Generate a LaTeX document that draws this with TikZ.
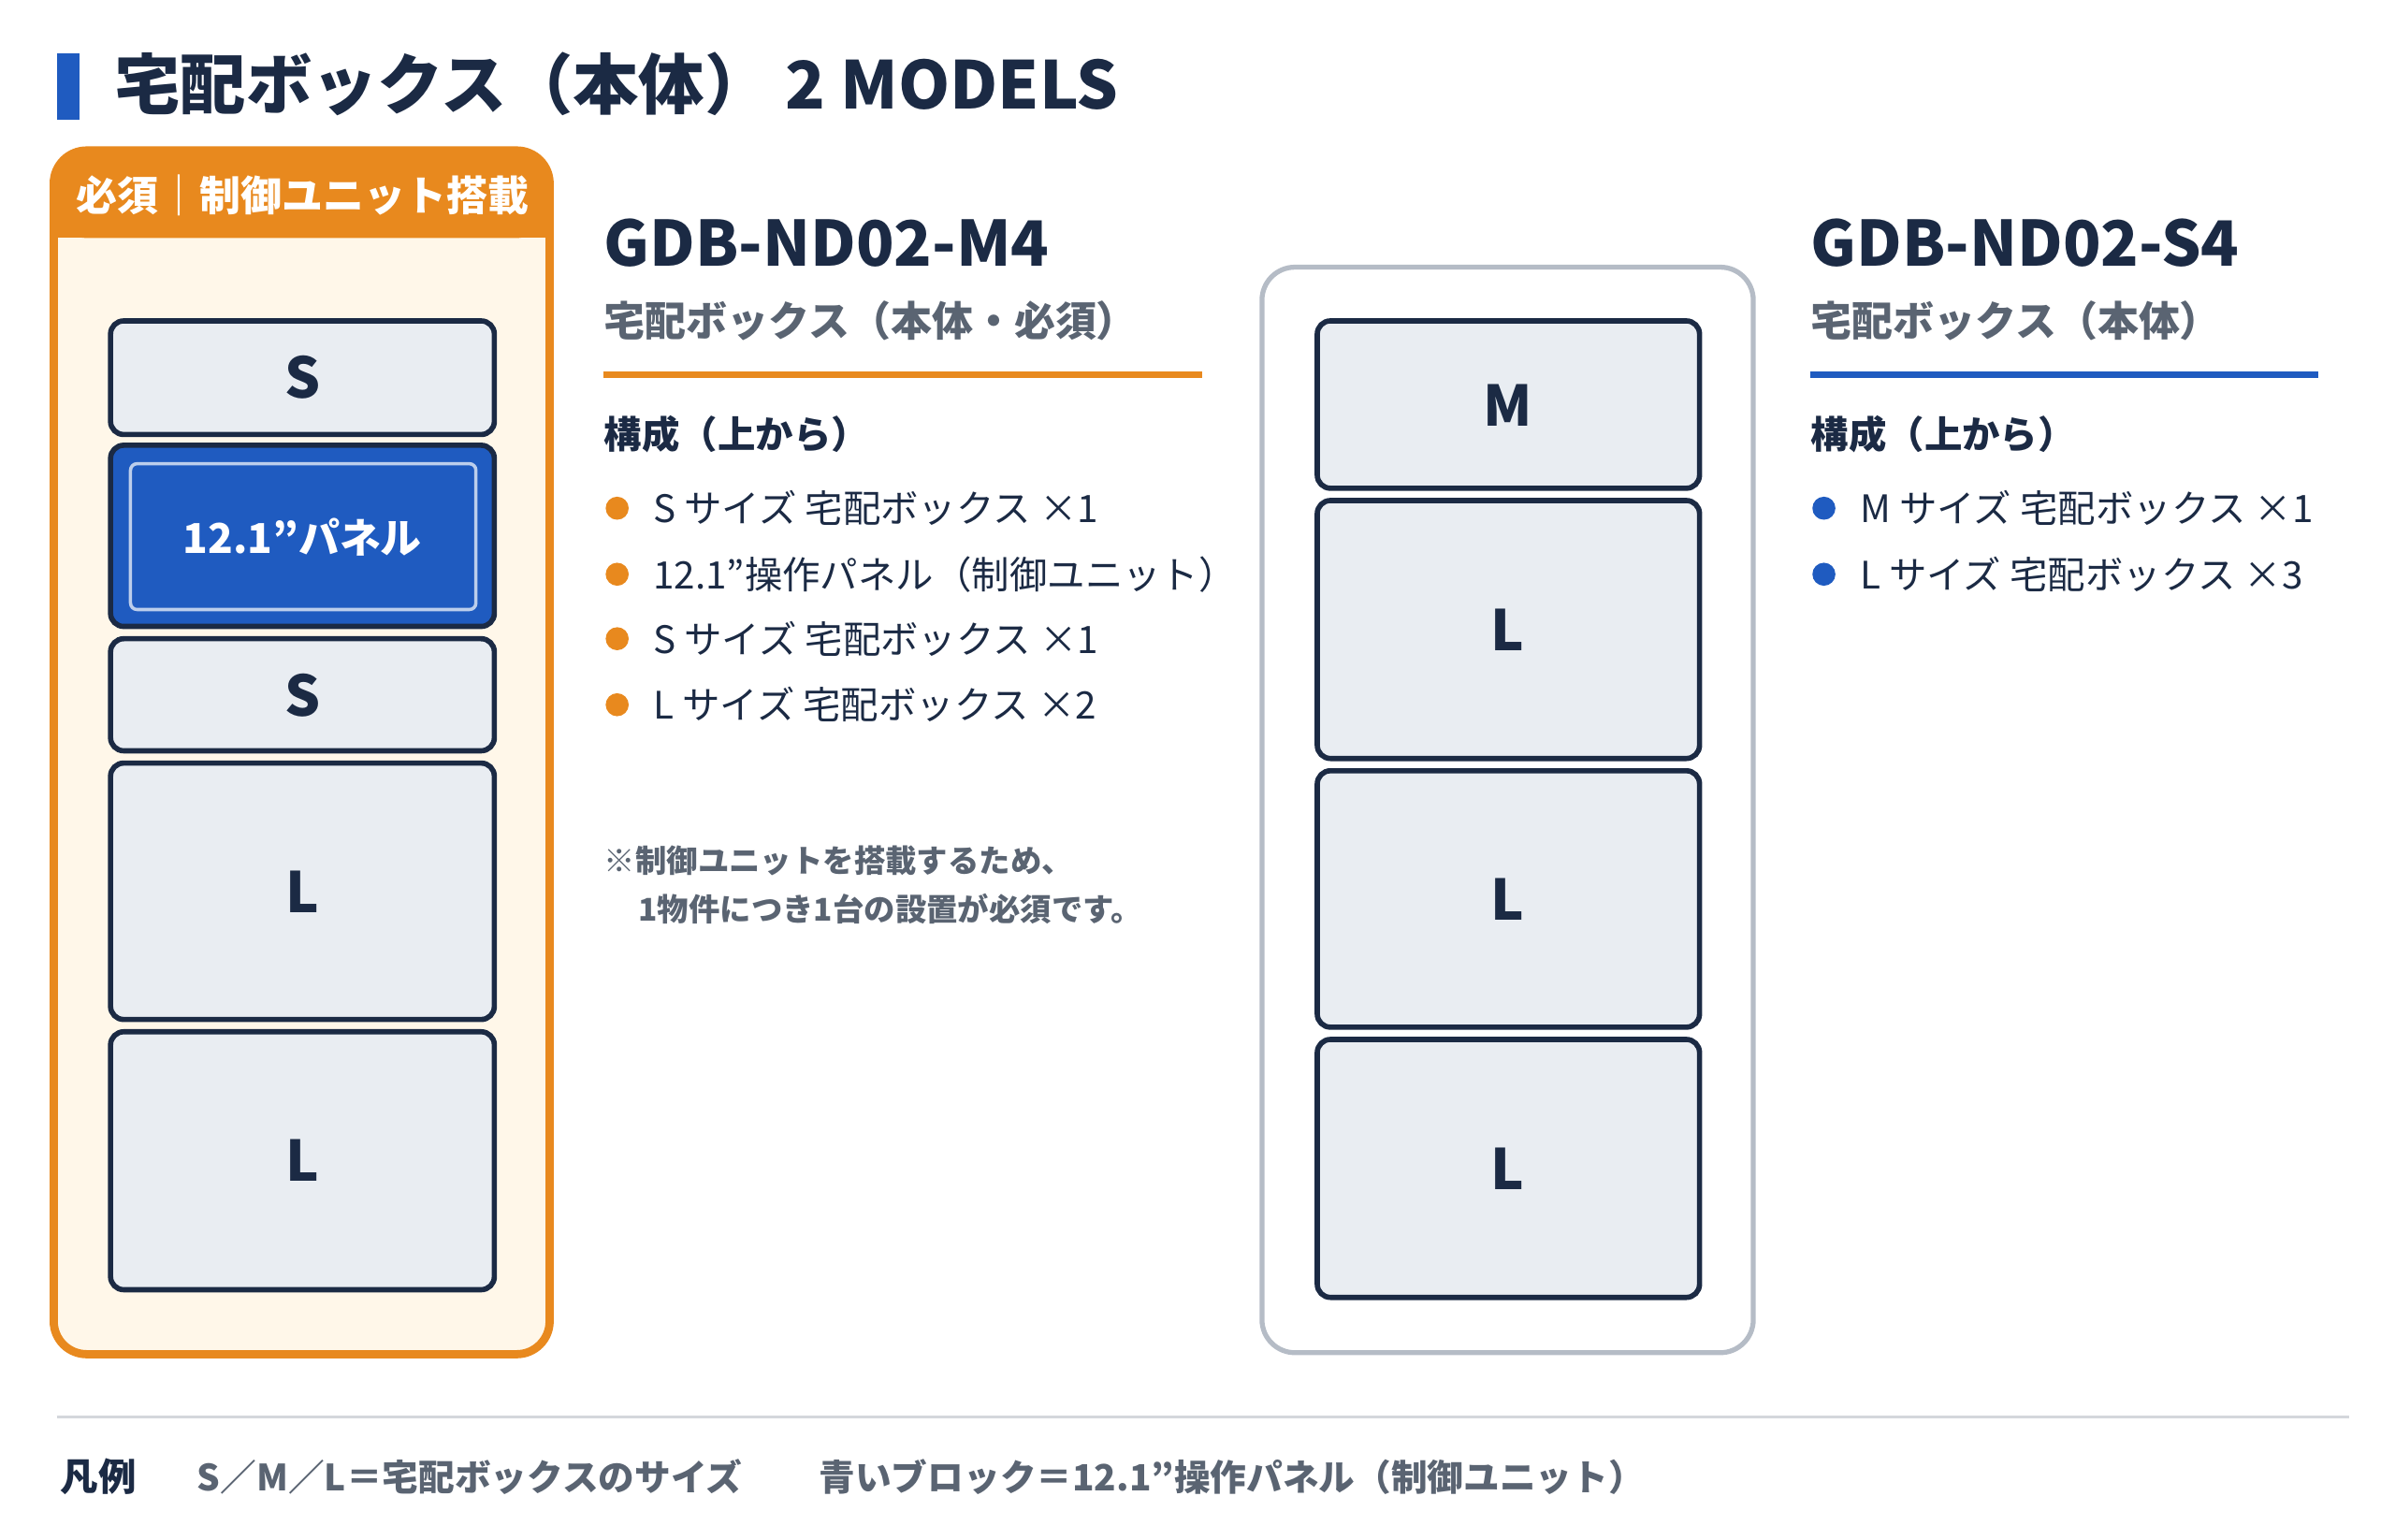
\documentclass[tikz,border=0pt]{standalone}
\usepackage{fontspec}
\setmainfont{Noto Sans CJK JP}
\usetikzlibrary{positioning, calc}
\definecolor{navy}{HTML}{1B2A44}
\definecolor{boxfill}{HTML}{E9EDF2}
\definecolor{accorange}{HTML}{E8891E}
\definecolor{cream}{HTML}{FFF7E9}
\definecolor{accblue}{HTML}{1F5BC0}
\definecolor{textgray}{HTML}{5A6472}
\definecolor{framegray}{HTML}{B5BCC6}
\newcommand{\dq}{\char"22\relax}

\begin{document}
\begin{tikzpicture}[x=0.01641cm, y=-0.01641cm,
    unit/.style={draw=navy, line width=1.6pt, fill=boxfill, rounded corners=4pt},
    unitlabel/.style={font=\fontsize{17}{17}\selectfont\bfseries, color=navy},
    heading/.style={anchor=west, font=\fontsize{19}{19}\selectfont\bfseries, color=navy},
    subhead/.style={anchor=west, font=\fontsize{12.5}{12.5}\selectfont\bfseries, color=textgray},
    body/.style={anchor=west, font=\fontsize{11.5}{11.5}\selectfont, color=navy},
    dot/.style={circle, fill=#1, inner sep=0pt, minimum size=7pt},
]
\useasboundingbox (0,0) rectangle (1560,1003);

% title
\fill[accblue] (37,35) rectangle (52,78);
\node[anchor=west, font=\fontsize{20}{20}\selectfont\bfseries, color=navy] (title) at (67,55) {宅配ボックス（本体） 2 MODELS};

% model M4 frame
\draw[accorange, fill=cream, line width=2.5pt, rounded corners=10pt] (35,98) rectangle (358,882);
\fill[accorange, rounded corners=10pt] (35,98) rectangle (358,155);
\fill[accorange] (35,130) rectangle (358,155);
\node[font=\fontsize{12.5}{12.5}\selectfont\bfseries, color=white] (badge) at (197,127) {必須｜制御ユニット搭載};

\draw[unit] (72,209) rectangle (322,283); \node[unitlabel] (m4s1) at (197,246) {S};
\draw[unit, fill=accblue] (72,290) rectangle (322,408);
\draw[white!70!accblue, line width=1pt, rounded corners=2pt] (85,302) rectangle (310,397);
\node[font=\fontsize{12.5}{12.5}\selectfont\bfseries, color=white] (m4p) at (197,350) {12.1\dq パネル};
\draw[unit] (72,416) rectangle (322,489); \node[unitlabel] (m4s2) at (197,453) {S};
\draw[unit] (72,497) rectangle (322,664); \node[unitlabel] (m4l1) at (197,581) {L};
\draw[unit] (72,672) rectangle (322,840); \node[unitlabel] (m4l2) at (197,756) {L};

% model M4 text
\node[heading] (m4name) at (386,158) {GDB-ND02-M4};
\node[subhead] (m4sub) at (386,209) {宅配ボックス（本体・必須）};
\draw[accorange, line width=1.8pt] (393,244) -- (783,244);
\node[body, font=\fontsize{11.5}{11.5}\selectfont\bfseries] (m4cfg) at (386,283) {構成（上から）};
\foreach \y/\t in {331/S サイズ 宅配ボックス ×1, 374/12.1\dq 操作パネル（制御ユニット）, 416/S サイズ 宅配ボックス ×1, 459/L サイズ 宅配ボックス ×2} {
  \node[dot=accorange] at (402,\y) {};
  \node[body] at (418,\y) {\t};
}
\node[anchor=north west, align=left, font=\fontsize{9.5}{15}\selectfont\bfseries, color=textgray] (m4note) at (386,543) {※制御ユニットを搭載するため、\\\hspace{1.1em}1物件につき1台の設置が必須です。};

% model S4 frame
\draw[framegray, line width=1.5pt, rounded corners=10pt] (822,174) rectangle (1142,881);
\draw[unit] (858,209) rectangle (1107,318); \node[unitlabel] (s4m) at (982,264) {M};
\draw[unit] (858,326) rectangle (1107,494); \node[unitlabel] (s4l1) at (982,410) {L};
\draw[unit] (858,502) rectangle (1107,669); \node[unitlabel] (s4l2) at (982,586) {L};
\draw[unit] (858,677) rectangle (1107,845); \node[unitlabel] (s4l3) at (982,761) {L};

% model S4 text
\node[heading] (s4name) at (1172,158) {GDB-ND02-S4};
\node[subhead] (s4sub) at (1172,209) {宅配ボックス（本体）};
\draw[accblue, line width=1.8pt] (1179,244) -- (1510,244);
\node[body, font=\fontsize{11.5}{11.5}\selectfont\bfseries] (s4cfg) at (1172,283) {構成（上から）};
\foreach \y/\t in {331/M サイズ 宅配ボックス ×1, 374/L サイズ 宅配ボックス ×3} {
  \node[dot=accblue] at (1188,\y) {};
  \node[body] at (1204,\y) {\t};
}

% legend
\draw[boxfill!80!gray, line width=0.8pt] (37,923) -- (1530,923);
\node[anchor=west, font=\fontsize{11.5}{11.5}\selectfont\bfseries, color=navy] (legend) at (32,962) {凡例};
\node[anchor=west, font=\fontsize{11}{11}\selectfont\bfseries, color=textgray] (legsize) at (121,962) {S／M／L＝宅配ボックスのサイズ};
\node[anchor=west, font=\fontsize{11}{11}\selectfont\bfseries, color=textgray] (legblue) at (526,962) {青いブロック＝12.1\dq 操作パネル（制御ユニット）};
\end{tikzpicture}
\end{document}
